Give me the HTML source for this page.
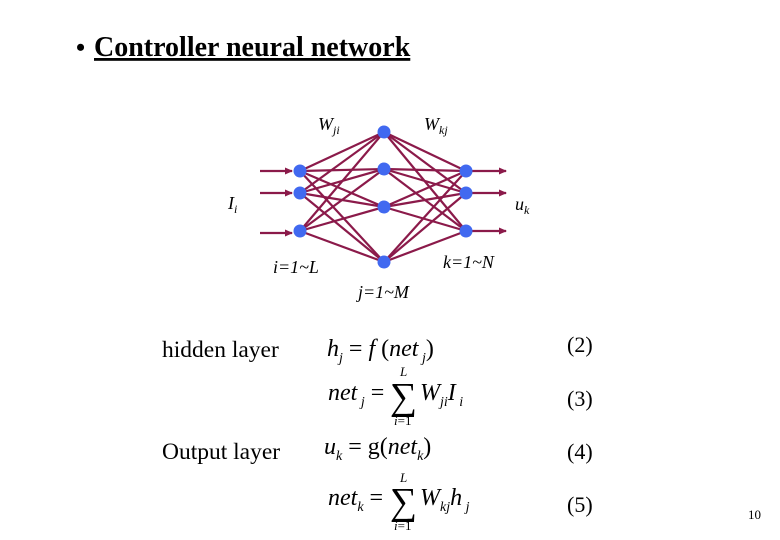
<!DOCTYPE html>
<html><head><style>
body{margin:0;width:780px;height:540px;background:#fff;overflow:hidden}
svg{display:block}
</style></head><body>
<svg width="780" height="540" xmlns="http://www.w3.org/2000/svg" font-family="Liberation Serif, serif">
<text x="76" y="56" font-size="26" font-weight="bold">•</text>
<text x="94" y="56" font-size="28" font-weight="bold" text-decoration="underline">Controller neural network</text>
<defs><marker id="a" markerWidth="8" markerHeight="8" refX="7" refY="4" orient="auto" markerUnits="userSpaceOnUse"><path d="M0,0.5 L8,4 L0,7.5z" fill="#8b1a4a"/></marker></defs>
<g stroke="#8b1a4a" stroke-width="2.2">
<line x1="260" y1="171" x2="292" y2="171" marker-end="url(#a)"/>
<line x1="260" y1="193" x2="292" y2="193" marker-end="url(#a)"/>
<line x1="260" y1="233" x2="292" y2="233" marker-end="url(#a)"/>
<line x1="470" y1="171" x2="506" y2="171" marker-end="url(#a)"/>
<line x1="470" y1="193" x2="506" y2="193" marker-end="url(#a)"/>
<line x1="470" y1="231" x2="506" y2="231" marker-end="url(#a)"/>
<line x1="300" y1="171" x2="384" y2="132"/><line x1="300" y1="171" x2="384" y2="169"/><line x1="300" y1="171" x2="384" y2="207"/><line x1="300" y1="171" x2="384" y2="262"/>
<line x1="300" y1="193" x2="384" y2="132"/><line x1="300" y1="193" x2="384" y2="169"/><line x1="300" y1="193" x2="384" y2="207"/><line x1="300" y1="193" x2="384" y2="262"/>
<line x1="300" y1="231" x2="384" y2="132"/><line x1="300" y1="231" x2="384" y2="169"/><line x1="300" y1="231" x2="384" y2="207"/><line x1="300" y1="231" x2="384" y2="262"/>
<line x1="466" y1="171" x2="384" y2="132"/><line x1="466" y1="171" x2="384" y2="169"/><line x1="466" y1="171" x2="384" y2="207"/><line x1="466" y1="171" x2="384" y2="262"/>
<line x1="466" y1="193" x2="384" y2="132"/><line x1="466" y1="193" x2="384" y2="169"/><line x1="466" y1="193" x2="384" y2="207"/><line x1="466" y1="193" x2="384" y2="262"/>
<line x1="466" y1="231" x2="384" y2="132"/><line x1="466" y1="231" x2="384" y2="169"/><line x1="466" y1="231" x2="384" y2="207"/><line x1="466" y1="231" x2="384" y2="262"/>
</g>
<g fill="#4169f0">
<circle cx="300" cy="171" r="6.5"/><circle cx="300" cy="193" r="6.5"/><circle cx="300" cy="231" r="6.5"/>
<circle cx="384" cy="132" r="6.5"/><circle cx="384" cy="169" r="6.5"/><circle cx="384" cy="207" r="6.5"/><circle cx="384" cy="262" r="6.5"/>
<circle cx="466" cy="171" r="6.5"/><circle cx="466" cy="193" r="6.5"/><circle cx="466" cy="231" r="6.5"/>
</g>
<g font-style="italic" font-size="18">
<text x="318" y="130">W<tspan font-size="12" dy="4">ji</tspan></text>
<text x="424" y="130">W<tspan font-size="12" dy="4">kj</tspan></text>
<text x="228" y="209">I<tspan font-size="12" dy="4">i</tspan></text>
<text x="515" y="210">u<tspan font-size="12" dy="4">k</tspan></text>
<text x="273" y="273">i=1~L</text>
<text x="443" y="268">k=1~N</text>
<text x="358" y="298">j=1~M</text>
</g>
<g font-size="23.5">
<text x="162" y="357">hidden layer</text>
<text x="162" y="459">Output layer</text>
</g>
<g font-size="22">
<text x="567" y="352">(2)</text>
<text x="567" y="406">(3)</text>
<text x="567" y="459">(4)</text>
<text x="567" y="512">(5)</text>
</g>
<text x="748" y="519" font-size="13">10</text>
<g font-style="italic" font-size="24">
<text x="327" y="356">h<tspan font-size="14" dy="6">j</tspan><tspan dy="-6" font-style="normal"> = </tspan>f<tspan font-style="normal"> (</tspan>net<tspan font-size="14" dy="6"> j</tspan><tspan dy="-6" font-style="normal">)</tspan></text>
<text x="328" y="400">net<tspan font-size="14" dy="6"> j</tspan><tspan dy="-6" font-style="normal"> = </tspan></text>
<text x="390" y="409" font-style="normal" font-size="38">∑</text>
<text x="400" y="376" font-size="13">L</text>
<text x="394" y="425" font-size="13">i<tspan font-style="normal">=1</tspan></text>
<text x="420" y="400">W<tspan font-size="14" dy="6">ji</tspan><tspan dy="-6">I</tspan><tspan font-size="14" dy="6"> i</tspan></text>
<text x="324" y="454">u<tspan font-size="14" dy="6">k</tspan><tspan dy="-6" font-style="normal"> = g(</tspan>net<tspan font-size="14" dy="6">k</tspan><tspan dy="-6" font-style="normal">)</tspan></text>
<text x="328" y="505">net<tspan font-size="14" dy="6">k</tspan><tspan dy="-6" font-style="normal"> = </tspan></text>
<text x="390" y="514" font-style="normal" font-size="38">∑</text>
<text x="400" y="482" font-size="13">L</text>
<text x="394" y="530" font-size="13">i<tspan font-style="normal">=1</tspan></text>
<text x="420" y="505">W<tspan font-size="14" dy="6">kj</tspan><tspan dy="-6">h</tspan><tspan font-size="14" dy="6"> j</tspan></text>
</g>
</svg>
</body></html>
